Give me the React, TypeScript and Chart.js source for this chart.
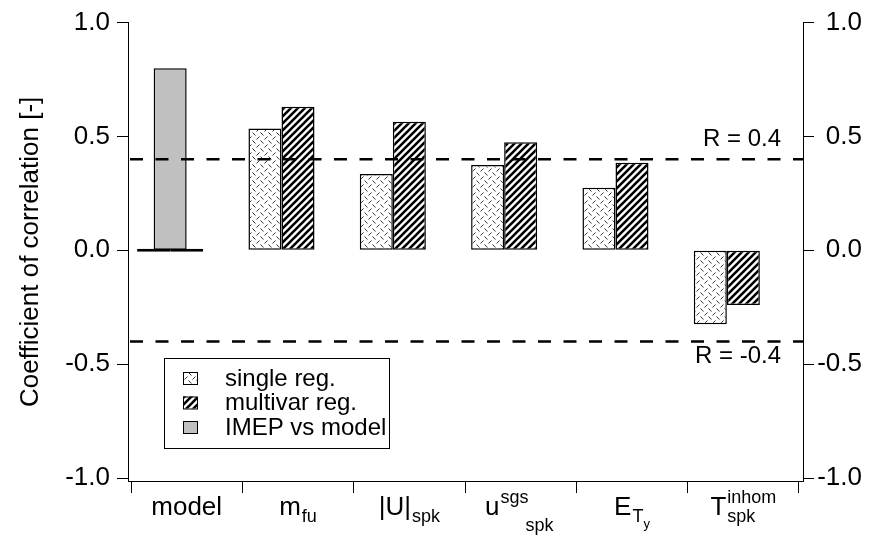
import React, { useEffect, useRef } from 'react';
import { Chart, registerables } from 'chart.js';

Chart.register(...registerables);

// ---- data ----
const categories = ['model', 'm', '|U|', 'u', 'E', 'T'];
const labelSup = ['', '', '', 'sgs', '', 'inhom'];
const labelSub = ['', 'fu', 'spk', 'spk', 'T', 'spk'];
const labelSubSub = ['', '', '', '', 'y', ''];
const subAfterSup = [false, false, false, true, false, false];

const singleReg = [0, 0.535, 0.335, 0.375, 0.275, -0.325];
const multivarReg = [0, 0.63, 0.565, 0.475, 0.385, -0.24];
const imepVsModel = [0.8, null, null, null, null, null];

const yTicks = [-1, -0.5, 0, 0.5, 1];
const thresholds = [0.4, -0.4];
const thresholdLabels = ['R = 0.4', 'R = -0.4'];

const FF = '"Liberation Sans", Arial, sans-serif';
const BAR_FRACTION = 0.2967; // bar width as a fraction of one category

function makeDashPattern(): CanvasPattern | string {
  const s = 8;
  const c = document.createElement('canvas');
  c.width = s;
  c.height = s;
  const g = c.getContext('2d');
  if (!g) return '#fff';
  g.fillStyle = '#fff';
  g.fillRect(0, 0, s, s);
  g.strokeStyle = '#333';
  g.lineWidth = 1;
  g.beginPath();
  g.moveTo(0.5, 3.5); g.lineTo(3.5, 0.5);
  g.moveTo(4.5, 4.5); g.lineTo(7.5, 7.5);
  g.stroke();
  return g.createPattern(c, 'repeat') || '#fff';
}

function makeHatchPattern(): CanvasPattern | string {
  const s = 7;
  const c = document.createElement('canvas');
  c.width = s;
  c.height = s;
  const g = c.getContext('2d');
  if (!g) return '#000';
  g.fillStyle = '#fff';
  g.fillRect(0, 0, s, s);
  g.strokeStyle = '#000';
  g.lineWidth = 2.6;
  g.beginPath();
  for (const k of [-s, 0, s]) {
    g.moveTo(k - 1, s + 1);
    g.lineTo(k + s + 1, -1);
  }
  g.stroke();
  return g.createPattern(c, 'repeat') || '#000';
}

// Category axes: x carries the multivar bars (centred), xs the single-reg bars
// (one bar to the left), xg the IMEP bar (half a bar to the left).
const insetPlugin = {
  id: 'xInset',
  afterLayout(chart: any) {
    const ca = chart.chartArea;
    const x = chart.scales.x;
    x.left = ca.left + 3;
    x.right = ca.right - 4;
    x.width = x.right - x.left;
    x.configure();
    const slot = (x.width / categories.length) * BAR_FRACTION;
    const shifts: Record<string, number> = { xs: slot, xg: slot / 2 };
    for (const id of Object.keys(shifts)) {
      const s = chart.scales[id];
      s.left = x.left - shifts[id];
      s.right = x.right - shifts[id];
      s.width = s.right - s.left;
      s.configure();
    }
  },
};

const overlayPlugin = {
  id: 'overlay',
  afterDatasetsDraw(chart: any) {
    const { ctx, chartArea } = chart;
    const ys = chart.scales.y;
    ctx.save();
    ctx.strokeStyle = '#000';
    ctx.lineWidth = 1;
    ctx.beginPath();
    ctx.moveTo(chartArea.left, chartArea.bottom + 0.5);
    ctx.lineTo(chartArea.right, chartArea.bottom + 0.5);
    ctx.stroke();
    ctx.lineWidth = 2.5;
    ctx.setLineDash([13, 12.5]);
    thresholds.forEach((t, i) => {
      const y = ys.getPixelForValue(t);
      ctx.beginPath();
      ctx.moveTo(chartArea.left + 2, y);
      ctx.lineTo(chartArea.right, y);
      ctx.stroke();
      ctx.fillStyle = '#000';
      ctx.font = `24px ${FF}`;
      ctx.textAlign = 'right';
      ctx.textBaseline = 'alphabetic';
      const ty = t >= 0 ? y - 13 : y + 22;
      ctx.fillText(thresholdLabels[i], chartArea.right - 22, ty);
    });
    ctx.setLineDash([]);
    ctx.restore();
  },
  afterDraw(chart: any) {
    const { ctx, chartArea } = chart;
    const xs = chart.scales.x;
    ctx.save();
    ctx.fillStyle = '#000';
    ctx.textAlign = 'left';
    ctx.textBaseline = 'alphabetic';
    const base = chartArea.bottom + 34;
    categories.forEach((main, i) => {
      const cx = xs.getPixelForValue(i);
      ctx.font = `26px ${FF}`;
      const wMain = ctx.measureText(main).width;
      ctx.font = `18px ${FF}`;
      const wSup = labelSup[i] ? ctx.measureText(labelSup[i]).width : 0;
      const wSub = labelSub[i] ? ctx.measureText(labelSub[i]).width : 0;
      ctx.font = `13px ${FF}`;
      const wSS = labelSubSub[i] ? ctx.measureText(labelSubSub[i]).width : 0;
      const stacked = !subAfterSup[i];
      const gap = wSup || wSub ? 1 : 0;
      const wScript = stacked ? Math.max(wSup, wSub + wSS) : wSup + wSub + wSS;
      let x = cx - (wMain + gap + wScript) / 2;
      ctx.font = `26px ${FF}`;
      ctx.fillText(main, x, base);
      x += wMain + gap;
      ctx.font = `18px ${FF}`;
      if (labelSup[i]) ctx.fillText(labelSup[i], x, base - 12);
      if (labelSub[i]) {
        if (stacked) ctx.fillText(labelSub[i], x, base + 7);
        else ctx.fillText(labelSub[i], x + wSup - 3, base + 16);
      }
      if (labelSubSub[i]) {
        ctx.font = `13px ${FF}`;
        ctx.fillText(labelSubSub[i], x + wSub, base + 13);
      }
    });

    const items = chart.data.datasets.filter((d: any) => d.label);
    const lx = chartArea.left + 36;
    const lw = 225;
    const lh = 90;
    const ly = chartArea.bottom - 33 - lh;
    ctx.fillStyle = '#fff';
    ctx.fillRect(lx, ly, lw, lh);
    ctx.strokeStyle = '#000';
    ctx.lineWidth = 1;
    ctx.strokeRect(lx + 0.5, ly + 0.5, lw, lh);
    items.forEach((d: any, k: number) => {
      const cy = ly + 20 + k * 24.5;
      ctx.fillStyle = d.backgroundColor;
      ctx.fillRect(lx + 19, cy - 6, 14, 12);
      ctx.strokeStyle = '#000';
      ctx.lineWidth = 1;
      ctx.strokeRect(lx + 19.5, cy - 5.5, 14, 12);
      ctx.fillStyle = '#000';
      ctx.font = `24px ${FF}`;
      ctx.textBaseline = 'middle';
      ctx.fillText(d.label, lx + 61, cy + 1);
    });
    ctx.restore();
  },
};

export default function App() {
  const ref = useRef<HTMLCanvasElement | null>(null);
  useEffect(() => {
    if (!ref.current) return;
    const dashPat = makeDashPattern();
    const hatchPat = makeHatchPattern();
    const tickFont = { family: FF, size: 26 };
    const barCommon = {
      borderColor: '#000',
      borderWidth: 1.5,
      borderSkipped: false as const,
      grouped: false,
      barPercentage: 1,
      categoryPercentage: BAR_FRACTION,
    };
    const yBase = {
      type: 'linear' as const,
      min: -1.013,
      max: 1,
      afterBuildTicks: (s: any) => {
        s.ticks = yTicks.map((v) => ({ value: v }));
      },
      grid: { drawOnChartArea: false, tickLength: 11, color: '#000', lineWidth: 1 },
      border: { display: true, color: '#000', width: 1 },
    };
    const hiddenX = { type: 'category', position: 'bottom', offset: true, display: false };
    const chart = new Chart(ref.current, {
      type: 'bar',
      data: {
        labels: categories,
        datasets: [
          { ...barCommon, label: 'single reg.', data: singleReg, backgroundColor: dashPat as any, xAxisID: 'xs', minBarLength: 3 },
          { ...barCommon, label: 'multivar reg.', data: multivarReg, backgroundColor: hatchPat as any, xAxisID: 'x', minBarLength: 3 },
          { ...barCommon, label: 'IMEP vs model', data: imepVsModel, backgroundColor: '#c0c0c0', xAxisID: 'xg' },
        ] as any,
      },
      options: {
        responsive: false,
        animation: false,
        layout: { padding: { left: 0, right: 10, top: 16, bottom: 0 } },
        plugins: { legend: { display: false }, tooltip: { enabled: false } },
        scales: {
          x: {
            type: 'category',
            position: 'bottom',
            offset: true,
            grid: { display: true, drawOnChartArea: false, tickLength: 12, color: '#000', lineWidth: 1, offset: true },
            border: { display: false },
            ticks: { display: false },
            afterFit: (s: any) => {
              s.height = 55;
            },
          },
          xs: hiddenX,
          xg: hiddenX,
          y: {
            ...yBase,
            position: 'left',
            ticks: { font: tickFont, color: '#000', padding: 7, callback: (v: any) => Number(v).toFixed(1) },
            title: {
              display: true,
              text: 'Coefficient of correlation [-]',
              color: '#000',
              font: { family: FF, size: 26 },
              padding: { top: 15, bottom: 0 },
            },
            afterFit: (s: any) => {
              s.width = 128;
            },
          },
          y2: {
            ...yBase,
            position: 'right',
            ticks: { font: tickFont, color: '#000', padding: 3, crossAlign: 'far', callback: (v: any) => Number(v).toFixed(1) },
            afterFit: (s: any) => {
              s.width = 59;
            },
          },
        } as any,
      },
      plugins: [insetPlugin, overlayPlugin],
    });
    return () => chart.destroy();
  }, []);
  return (
    <div style={{ position: 'fixed', left: 0, top: 0, width: 872, height: 536, background: '#fff' }}>
      <canvas ref={ref} width={872} height={536} style={{ display: 'block' }} />
    </div>
  );
}
